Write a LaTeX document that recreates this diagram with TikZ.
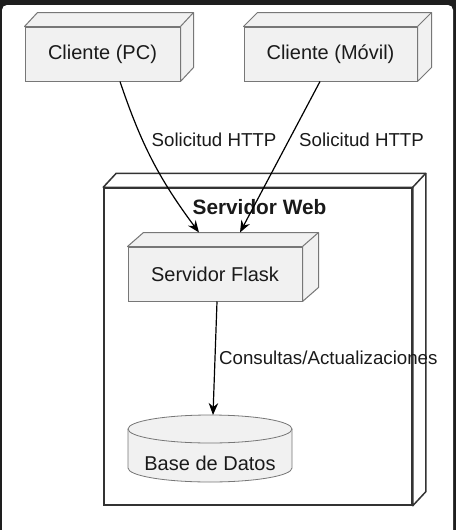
\documentclass[tikz,border=0pt]{standalone}
\usepackage{fontspec}
\setmainfont{Liberation Sans}
\usetikzlibrary{arrows.meta}
\definecolor{framebg}{HTML}{1E1E1E}
\definecolor{boxfill}{HTML}{F1F1F1}
\definecolor{boxline}{HTML}{777777}
\definecolor{webline}{HTML}{333333}
\definecolor{txt}{HTML}{1A1A1A}
\newcommand{\threedbox}[4]{%
  \draw[#4] (#1.north west) -- ++(#2,-#3) -- ([shift={(#2,-#3)}]#1.north east)
    -- ([shift={(#2,-#3)}]#1.south east) -- (#1.south east) -- (#1.north east) -- cycle;
  \draw[#4] (#1.north east) -- ++(#2,-#3);
}
\tikzset{
  nodebox/.style={draw=boxline, fill=boxfill, line width=1pt, inner sep=0pt,
    font=\fontsize{20}{23}\selectfont, text=txt},
  nodeside/.style={draw=boxline, fill=boxfill, line width=1pt, line join=round},
  webbox/.style={draw=webline, fill=white, line width=1.5pt, inner sep=0pt},
  webside/.style={draw=webline, fill=white, line width=1.5pt, line join=round},
  conn/.style={-{Stealth[length=12pt,width=9.5pt,inset=4pt]}, line width=1.2pt, black},
  elabel/.style={font=\fontsize{18.7}{21}\selectfont, text=txt, inner sep=0pt},
}
\begin{document}
\begin{tikzpicture}[x=1pt,y=-1pt]
\useasboundingbox (0,0) rectangle (456,530);
\fill[framebg] (0,0) rectangle (456,530);
\fill[white, rounded corners=5pt] (2,5) rectangle (453,535);

% Servidor Web container
\node[webbox, minimum width=308pt, minimum height=317pt] (web) at (258,346.5) {};
\threedbox{web}{13}{14}{webside}
\node[font=\bfseries\fontsize{20.8}{23}\selectfont, text=txt] (webtitle) at (259.5,207) {Servidor Web};

% Clients
\node[nodebox, minimum width=155pt, minimum height=54pt] (pc) at (102.5,54) {Cliente (PC)};
\threedbox{pc}{13}{14}{nodeside}
\node[nodebox, minimum width=173pt, minimum height=54pt] (movil) at (330.5,54) {Cliente (Móvil)};
\threedbox{movil}{14}{14}{nodeside}

% Flask server
\node[nodebox, minimum width=174pt, minimum height=54pt] (flask) at (215,274) {Servidor Flask};
\threedbox{flask}{16}{14}{nodeside}

% Database cylinder
\fill[boxfill] (128,429) -- (128,468) arc[start angle=180, end angle=360, x radius=82, y radius=-14]
  -- (292,429) arc[start angle=0, end angle=180, x radius=82, y radius=-14] -- cycle;
\draw[boxline, line width=0.8pt] (128,429) -- (128,468) arc[start angle=180, end angle=360, x radius=82, y radius=-14] -- (292,429);
\draw[boxline, line width=0.8pt, fill=boxfill] (210,429) ellipse[x radius=82, y radius=14];
\node[font=\fontsize{20}{23}\selectfont, text=txt] (db) at (210,463) {Base de Datos};
\coordinate (dbtop) at (213,415);

% Connectors
\draw[conn] ([xshift=17.5pt]pc.south) to[bend right=9] ([shift={(-16,-14)}]flask.north);
\draw[conn] ([xshift=-10.5pt]movil.south) -- ([shift={(25,-14)}]flask.north);
\draw[conn] ([xshift=2pt]flask.south) -- (dbtop);

% Labels
\node[elabel, anchor=west] (l1) at (151.5,140) {Solicitud HTTP};
\node[elabel, anchor=west] (l2) at (299,140) {Solicitud HTTP};
\node[elabel, anchor=west] (l3) at (219,358) {Consultas/Actualizaciones};
\end{tikzpicture}
\end{document}
